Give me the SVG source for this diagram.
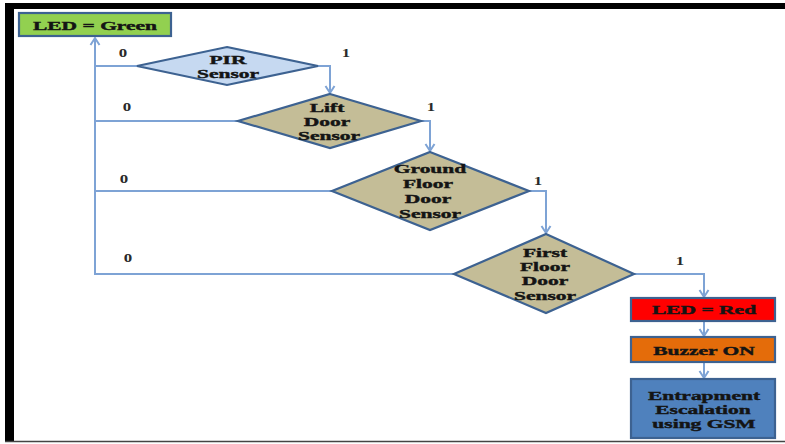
<svg xmlns="http://www.w3.org/2000/svg" width="785" height="444" viewBox="0 0 785 444">
<style>
.t{font-family:"Liberation Serif","Times New Roman",serif;font-weight:bold;font-size:12.5px;fill:#141414;stroke:#141414;stroke-width:0.4;text-anchor:middle}
.lb{font-family:"Liberation Serif","Times New Roman",serif;font-weight:bold;font-size:13px;fill:#2a2a2a;text-anchor:middle}
.c{fill:none;stroke:#7EA3D5;stroke-width:2}
.nd{stroke:#3D6291;stroke-width:2.2}
</style>
<defs>
<marker id="ah" markerUnits="userSpaceOnUse" markerWidth="12" markerHeight="12" viewBox="0 0 12 12" refX="10" refY="6" orient="auto">
<path d="M3,1.5 L10,6 L3,10.5" fill="none" stroke="#7EA3D5" stroke-width="2"/>
</marker>
</defs>
<rect x="0" y="0" width="785" height="444" fill="#ffffff"/>
<g id="frame">
<rect x="5" y="3" width="780" height="6" fill="#000"/>
<rect x="5" y="3" width="9" height="439" fill="#000"/>
<line x1="5" y1="441.5" x2="785" y2="441.5" stroke="#444" stroke-width="1.5"/>
</g>
<g id="connectors">
<path class="c" d="M318,66 H330 V93" marker-end="url(#ah)"/>
<path class="c" d="M421,121 H430 V151" marker-end="url(#ah)"/>
<path class="c" d="M529,191 H546 V233" marker-end="url(#ah)"/>
<path class="c" d="M634,274 H704 V297" marker-end="url(#ah)"/>
<path class="c" d="M704,322 V336" marker-end="url(#ah)"/>
<path class="c" d="M704,363 V378" marker-end="url(#ah)"/>
<path class="c" d="M137,66 H95"/>
<path class="c" d="M238,121 H95"/>
<path class="c" d="M332,191 H95"/>
<path class="c" d="M454,274 H95 V38" marker-end="url(#ah)"/>
<text class="lb" transform="translate(123,57) scale(1.3,1)">0</text>
<text class="lb" transform="translate(127,111) scale(1.3,1)">0</text>
<text class="lb" transform="translate(124,183) scale(1.3,1)">0</text>
<text class="lb" transform="translate(128,262) scale(1.3,1)">0</text>
<text class="lb" transform="translate(346,57) scale(1.3,1)">1</text>
<text class="lb" transform="translate(431,111) scale(1.3,1)">1</text>
<text class="lb" transform="translate(538,185) scale(1.3,1)">1</text>
<text class="lb" transform="translate(680,265) scale(1.3,1)">1</text>
</g>
<g id="led-green">
<rect class="nd" x="19" y="13" width="152" height="23" fill="#92D050"/>
<text class="t" transform="translate(95,29.5) scale(1.72,1)">LED = Green</text>
</g>
<g id="pir">
<polygon class="nd" points="227,47 318,66 227,85 137,66" fill="#C6D9F1"/>
<text class="t" transform="translate(228,63.5) scale(1.72,1)">PIR</text>
<text class="t" transform="translate(228,77.5) scale(1.72,1)">Sensor</text>
</g>
<g id="lift">
<polygon class="nd" points="330,94 421,121 330,148 238,121" fill="#C4BD97"/>
<text class="t" transform="translate(327,112) scale(1.72,1)">Lift</text>
<text class="t" transform="translate(327,126) scale(1.72,1)">Door</text>
<text class="t" transform="translate(329,140) scale(1.72,1)">Sensor</text>
</g>
<g id="ground">
<polygon class="nd" points="430,152 529,191 430,230 332,191" fill="#C4BD97"/>
<text class="t" transform="translate(430,173) scale(1.72,1)">Ground</text>
<text class="t" transform="translate(428,188) scale(1.72,1)">Floor</text>
<text class="t" transform="translate(428,203) scale(1.72,1)">Door</text>
<text class="t" transform="translate(430,217.5) scale(1.72,1)">Sensor</text>
</g>
<g id="first">
<polygon class="nd" points="546,234 634,274 546,313 454,274" fill="#C4BD97"/>
<text class="t" transform="translate(545,257) scale(1.72,1)">First</text>
<text class="t" transform="translate(545,271) scale(1.72,1)">Floor</text>
<text class="t" transform="translate(545,285) scale(1.72,1)">Door</text>
<text class="t" transform="translate(545,300) scale(1.72,1)">Sensor</text>
</g>
<g id="led-red">
<rect class="nd" x="631" y="298" width="144" height="23" fill="#FF0000"/>
<text class="t" transform="translate(704,313.5) scale(1.72,1)">LED = Red</text>
</g>
<g id="buzzer">
<rect class="nd" x="631" y="337" width="144" height="25" fill="#E46C0A"/>
<text class="t" transform="translate(704,354.5) scale(1.72,1)">Buzzer ON</text>
</g>
<g id="gsm">
<rect class="nd" x="631" y="379" width="144" height="59" fill="#4F81BD"/>
<text class="t" transform="translate(704,400) scale(1.72,1)">Entrapment</text>
<text class="t" transform="translate(703,414) scale(1.72,1)">Escalation</text>
<text class="t" transform="translate(704,428) scale(1.72,1)">using GSM</text>
</g>
</svg>
